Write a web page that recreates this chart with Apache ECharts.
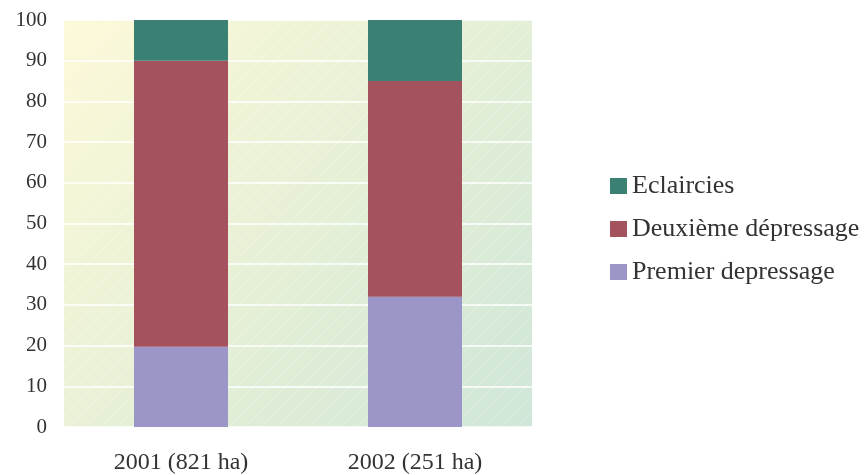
<!DOCTYPE html>
<html>
<head>
<meta charset="utf-8">
<script src="https://cdn.jsdelivr.net/npm/echarts@6/dist/echarts.min.js"></script>
<style>
html, body { margin: 0; padding: 0; background: #fff; }
#chart { width: 866px; height: 475px; }
</style>
</head>
<body>
<div id="chart"></div>
<script>
// Répartition des travaux (% de la surface) par année
const categories = ['2001 (821 ha)', '2002 (251 ha)'];
const premierDepressage = [19.7, 32];
const deuxiemeDepressage = [70.3, 53];
const eclaircies = [10, 15];
const yTicks = { min: 0, max: 100, interval: 10 };

const font = 'Liberation Serif';
const gridBox = { left: 64, right: 334, top: 20, bottom: 48 };
const chart = echarts.init(document.getElementById('chart'), null, { renderer: 'canvas' });

// faint diagonal hatching laid over the plot background
const tile = document.createElement('canvas');
tile.width = 16; tile.height = 16;
const tctx = tile.getContext('2d');
tctx.strokeStyle = 'rgba(255,255,255,0.3)';
tctx.lineWidth = 0.8;
tctx.beginPath();
tctx.moveTo(-2, 18); tctx.lineTo(18, -2);
tctx.stroke();

chart.setOption({
  animation: false,
  grid: {
    left: gridBox.left, right: gridBox.right, top: gridBox.top, bottom: gridBox.bottom,
    show: true,
    borderWidth: 0,
    backgroundColor: new echarts.graphic.LinearGradient(0, 0, 1, 1, [
      { offset: 0, color: '#fdf9d8' },
      { offset: 0.5, color: '#e6f0d6' },
      { offset: 1, color: '#cfe6d8' }
    ])
  },
  legend: {
    orient: 'vertical',
    left: 610,
    top: 173,
    padding: 0,
    itemWidth: 17,
    itemHeight: 16,
    itemGap: 17,
    icon: 'rect',
    data: ['Eclaircies', 'Deuxième dépressage', 'Premier depressage'],
    textStyle: { fontFamily: font, fontSize: 26, lineHeight: 26, color: '#333', padding: [0, 0, 0, 0] }
  },
  xAxis: {
    type: 'category',
    data: categories,
    axisLine: { show: false },
    axisTick: { show: false },
    axisLabel: { fontFamily: font, fontSize: 24, color: '#333', margin: 24 }
  },
  yAxis: {
    type: 'value',
    min: yTicks.min, max: yTicks.max, interval: yTicks.interval,
    axisLine: { show: false },
    axisTick: { show: false },
    splitLine: { lineStyle: { color: '#ffffff', width: 1.5 } },
    axisLabel: { fontFamily: font, fontSize: 21, color: '#333', margin: 17 }
  },
  graphic: [{
    type: 'rect',
    silent: true,
    z: 1,
    shape: { x: gridBox.left, y: gridBox.top, width: 866 - gridBox.left - gridBox.right, height: 475 - gridBox.top - gridBox.bottom },
    style: { fill: { image: tile, repeat: 'repeat' } }
  }],
  series: [
    { name: 'Premier depressage', type: 'bar', stack: 't', data: premierDepressage, z: 3,
      barWidth: 94, itemStyle: { color: '#9c95c8' } },
    { name: 'Deuxième dépressage', type: 'bar', stack: 't', data: deuxiemeDepressage, z: 3,
      itemStyle: { color: '#a5525f' } },
    { name: 'Eclaircies', type: 'bar', stack: 't', data: eclaircies, z: 3,
      itemStyle: { color: '#3a8174' } }
  ]
});
</script>
</body>
</html>
